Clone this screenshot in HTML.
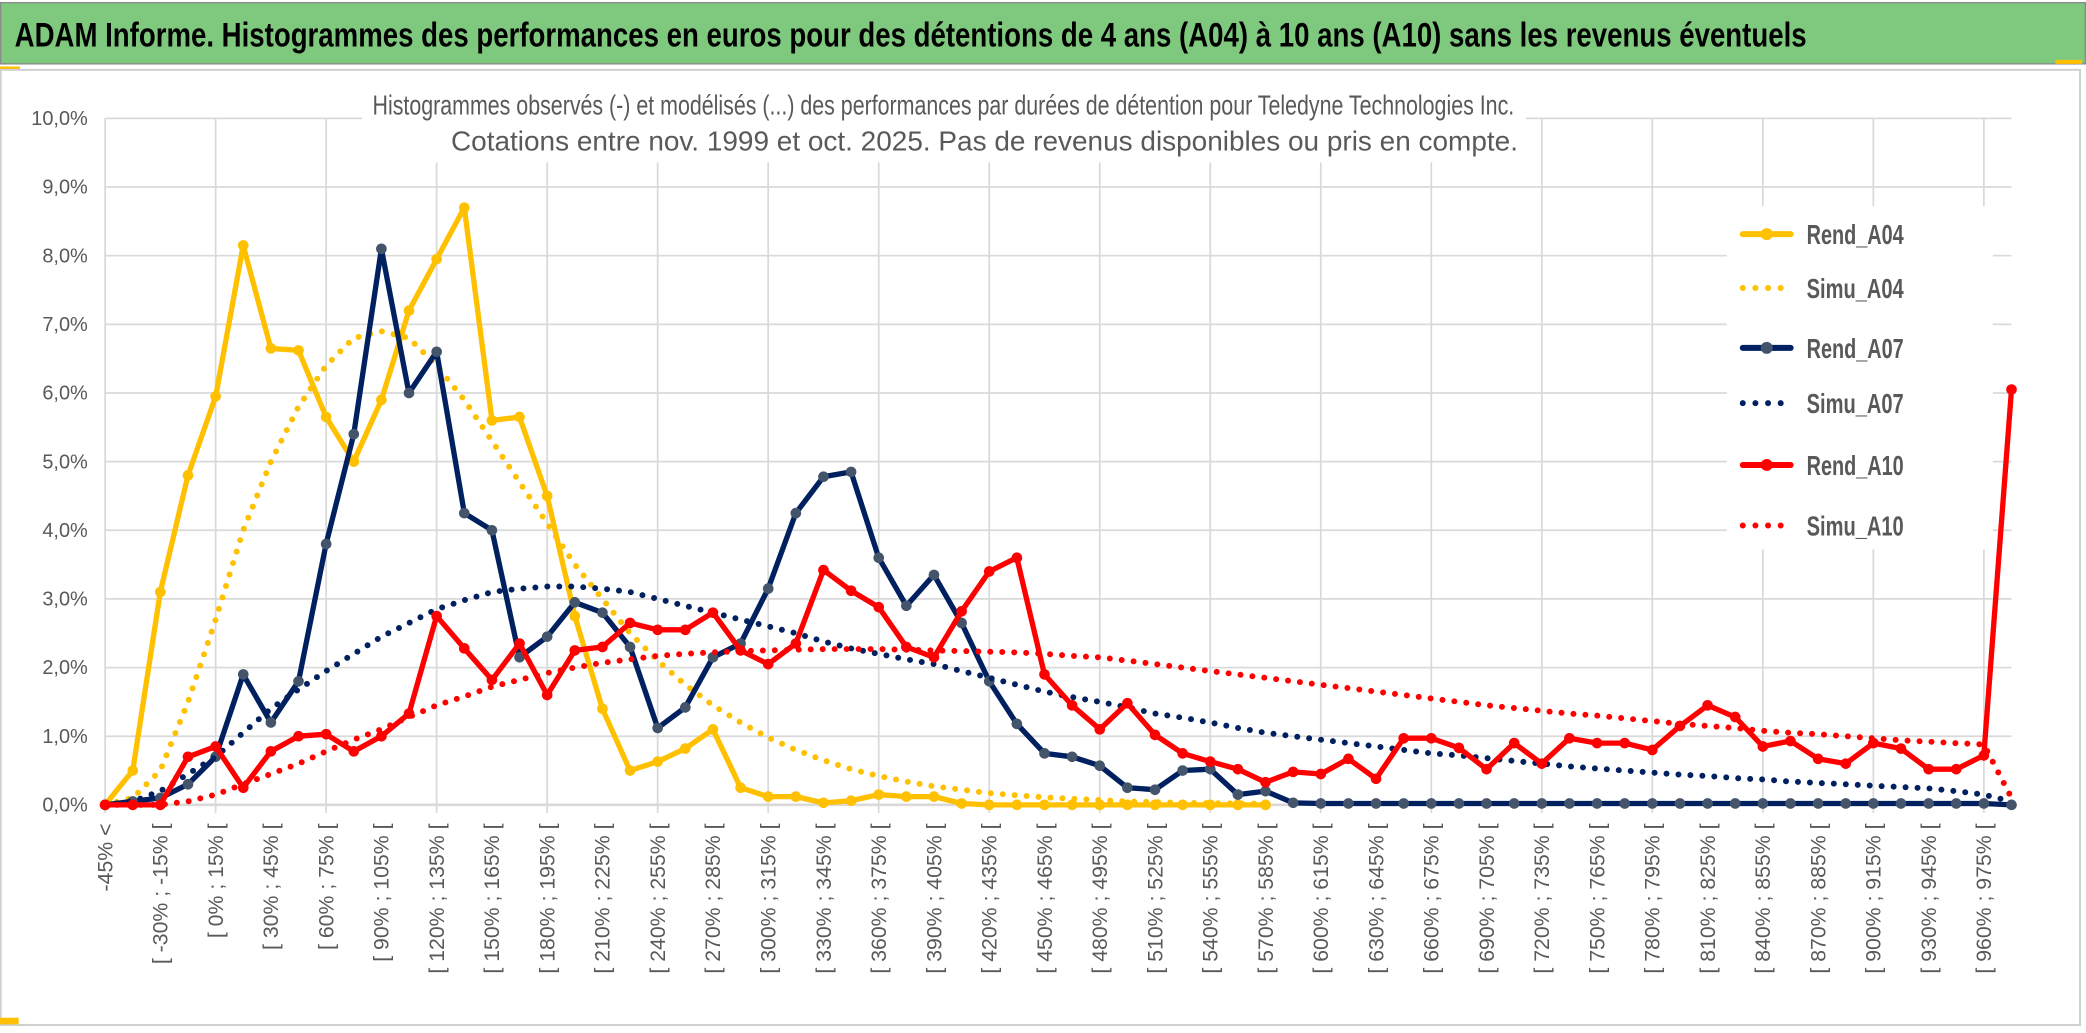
<!DOCTYPE html>
<html><head><meta charset="utf-8"><style>
html,body{margin:0;padding:0;background:#fff;}
svg{display:block;}
text{font-family:"Liberation Sans Narrow","Liberation Sans",sans-serif;}
</style></head><body>
<svg id="chart" width="2086" height="1033" viewBox="0 0 1568 776.5" preserveAspectRatio="none" xmlns="http://www.w3.org/2000/svg">
<rect x="0" y="0" width="1568" height="776.5" fill="#fff"/>
<rect x="0.5" y="2" width="1567" height="46" fill="#7fc97f" stroke="#8a8a8a" stroke-width="1"/>
<text x="11" y="35" font-size="26" font-weight="bold" fill="#000" textLength="1347" lengthAdjust="spacingAndGlyphs">ADAM Informe. Histogrammes des performances en euros pour des détentions de 4 ans (A04) à 10 ans (A10) sans les revenus éventuels</text>
<rect x="0" y="50" width="15" height="3" fill="#ffc000"/>
<rect x="1545" y="45" width="20" height="3" fill="#ffc000"/>
<rect x="0.5" y="52.5" width="1563" height="718" fill="#fff" stroke="#d0d0d0" stroke-width="1.5"/>
<rect x="0" y="765" width="14" height="5" fill="#ffc000"/>
<g id="grid"></g>
<rect x="272" y="62" width="875" height="60" fill="#fff"/>
<g id="sub1" transform="translate(280,86)"><text id="sub1t" x="0" y="0" font-size="21" fill="#595959" style="font-family:'Liberation Sans Narrow','Liberation Sans',sans-serif">Histogrammes observés (-) et modélisés (...) des performances par durées de détention pour Teledyne Technologies Inc.</text></g>
<g id="sub2" transform="translate(339,113)"><text id="sub2t" x="0" y="0" font-size="21" fill="#595959" style="font-family:'Liberation Sans Narrow','Liberation Sans',sans-serif">Cotations entre nov. 1999 et oct. 2025. Pas de revenus disponibles ou pris en compte.</text></g>
<g id="axes"></g>
<g id="series"></g>
<rect x="1298" y="155" width="200" height="258" fill="#fff"/>
<g id="legend"></g>
</svg>
<script>
const yTicks = [0,1,2,3,4,5,6,7,8,9,10];
const rendA04 = [0,0.5,3.1,4.8,5.95,8.15,6.65,6.62,5.65,5.0,5.9,7.2,7.95,8.7,5.6,5.65,4.5,2.75,1.4,0.5,0.63,0.82,1.1,0.25,0.12,0.12,0.03,0.06,0.15,0.12,0.12,0.02,0,0,0,0,0,0,0,0,0,0,0,null,null,null,null,null,null,null,null,null,null,null,null,null,null,null,null,null,null,null,null,null,null,null,null,null,null,null];
const simuA04 = [0,0.1,0.5,1.5,2.7,4.0,5.0,5.8,6.4,6.8,6.9,6.8,6.4,5.9,5.3,4.7,4.1,3.5,3.0,2.5,2.1,1.75,1.45,1.2,0.98,0.8,0.65,0.52,0.42,0.34,0.27,0.22,0.17,0.14,0.11,0.09,0.07,0.05,0.04,0.03,0.025,0.02,0.015,null,null,null,null,null,null,null,null,null,null,null,null,null,null,null,null,null,null,null,null,null,null,null,null,null,null,null];
const rendA07 = [0,0.05,0.1,0.3,0.7,1.9,1.2,1.8,3.8,5.4,8.1,6.0,6.6,4.25,4.0,2.15,2.45,2.95,2.8,2.3,1.12,1.42,2.15,2.35,3.15,4.25,4.78,4.85,3.6,2.9,3.35,2.65,1.8,1.18,0.75,0.7,0.57,0.25,0.22,0.5,0.52,0.15,0.2,0.03,0.02,0.02,0.02,0.02,0.02,0.02,0.02,0.02,0.02,0.02,0.02,0.02,0.02,0.02,0.02,0.02,0.02,0.02,0.02,0.02,0.02,0.02,0.02,0.02,0.02,0];
const simuA07 = [0,0.05,0.2,0.45,0.7,1.05,1.4,1.68,1.95,2.2,2.45,2.65,2.85,2.98,3.1,3.15,3.18,3.18,3.15,3.1,3.0,2.9,2.8,2.7,2.6,2.5,2.38,2.28,2.2,2.12,2.05,1.95,1.85,1.75,1.65,1.57,1.5,1.42,1.33,1.27,1.2,1.12,1.05,1.0,0.95,0.9,0.85,0.8,0.75,0.72,0.68,0.64,0.6,0.56,0.53,0.5,0.47,0.44,0.42,0.39,0.37,0.34,0.32,0.3,0.28,0.26,0.24,0.2,0.15,0.05];
const rendA10 = [0,0,0,0.7,0.85,0.25,0.78,1.0,1.03,0.78,1.0,1.33,2.75,2.28,1.82,2.35,1.6,2.25,2.3,2.65,2.55,2.55,2.8,2.25,2.05,2.35,3.42,3.12,2.88,2.3,2.15,2.82,3.4,3.6,1.9,1.45,1.1,1.48,1.02,0.75,0.63,0.52,0.33,0.48,0.45,0.67,0.38,0.97,0.97,0.83,0.52,0.9,0.6,0.97,0.9,0.9,0.8,1.15,1.45,1.28,0.85,0.93,0.67,0.6,0.9,0.82,0.52,0.52,0.72,6.05];
const simuA10 = [0,0,0,0.05,0.15,0.3,0.45,0.6,0.78,0.95,1.1,1.28,1.45,1.58,1.72,1.82,1.92,2.0,2.07,2.12,2.17,2.2,2.22,2.24,2.25,2.26,2.27,2.27,2.27,2.26,2.25,2.24,2.23,2.22,2.2,2.17,2.15,2.1,2.05,2.0,1.95,1.9,1.85,1.8,1.75,1.7,1.65,1.6,1.55,1.5,1.45,1.41,1.37,1.33,1.3,1.26,1.22,1.18,1.15,1.12,1.08,1.05,1.03,1.0,0.97,0.94,0.92,0.9,0.88,0.1];
const categories = ["-45% <"];
for (let a = -45; a < 975; a += 15) categories.push("[ " + a + "% ; " + (a + 15) + "% [");
categories.push("975% >=");

const NS = "http://www.w3.org/2000/svg";
const X0 = 79, X1 = 1512, Y0 = 605, YTOP = 89;
const xs = i => X0 + i * (X1 - X0) / (categories.length - 1);
const ys = v => Y0 - v * (Y0 - YTOP) / 10;
function mk(tag, attrs, parent) {
  const e = document.createElementNS(NS, tag);
  for (const k in attrs) e.setAttribute(k, attrs[k]);
  parent.appendChild(e);
  return e;
}
function fitText(gid, tid, x, y, w) {
  const t = document.getElementById(tid);
  const len = t.getComputedTextLength();
  if (len > 0) document.getElementById(gid).setAttribute('transform', 'translate(' + x + ',' + y + ') scale(' + (w / len).toFixed(4) + ',1)');
}
fitText('sub1', 'sub1t', 280, 86, 858);
fitText('sub2', 'sub2t', 339, 113, 802);
const grid = document.getElementById('grid');
const axes = document.getElementById('axes');
yTicks.forEach(t => {
  const l = mk('line', {x1: X0, x2: X1, y1: ys(t), y2: ys(t), stroke: '#d9d9d9', 'stroke-width': t === 0 ? 2 : 1.3}, grid);
  
  
  const tx = mk('text', {x: 66, y: ys(t) + 5, 'text-anchor': 'end', 'font-size': 15, fill: '#595959'}, axes);
  tx.textContent = t.toFixed(1).replace('.', ',') + '%';
  
  
});
for (let i = 0; i < categories.length; i += 4) {
  const l = mk('line', {x1: xs(i), x2: xs(i), y1: YTOP, y2: Y0 + 6, stroke: '#d9d9d9', 'stroke-width': 1.3}, grid);
  
  
}
for (let i = 0; i < categories.length - 1; i += 2) {
  const x = xs(i) + 5.5, y = 619;
  const tx = mk('text', {x: x, y: y, 'text-anchor': 'end', 'font-size': 16, fill: '#595959', 'font-family': '"Liberation Sans",sans-serif', transform: 'rotate(-90 ' + x + ' ' + y + ')'}, axes);
  tx.textContent = categories[i];
  
  
}
const seriesG = document.getElementById('series');
function pathOf(vals) {
  let d = '', pen = false;
  vals.forEach((v, i) => {
    if (v === null) { pen = false; return; }
    d += (pen ? 'L' : 'M') + xs(i).toFixed(1) + ' ' + ys(v).toFixed(1);
    pen = true;
  });
  return d;
}
const defs = [
  {vals: rendA04, color: '#ffc000', mcol: '#ffc000', solid: true, name: 'Rend_A04'},
  {vals: simuA04, color: '#ffc000', solid: false, name: 'Simu_A04'},
  {vals: rendA07, color: '#002060', mcol: '#44546a', solid: true, name: 'Rend_A07'},
  {vals: simuA07, color: '#002060', solid: false, name: 'Simu_A07'},
  {vals: rendA10, color: '#ff0000', mcol: '#ff0000', solid: true, name: 'Rend_A10'},
  {vals: simuA10, color: '#ff0000', solid: false, name: 'Simu_A10'}
];
defs.forEach(s => {
  const g = mk('g', {}, seriesG);
  
  
  const p = mk('path', {d: pathOf(s.vals), fill: 'none', stroke: s.color, 'stroke-width': s.solid ? 4 : 4.5, 'stroke-linejoin': 'round', 'stroke-linecap': 'round'}, g);
  if (!s.solid) p.setAttribute('stroke-dasharray', '0 9');
  
  
  if (s.solid) s.vals.forEach((v, i) => {
    if (v === null) return;
    const c = mk('circle', {cx: xs(i), cy: ys(v), r: 4, fill: s.mcol}, g);
    
    
  });
});
const leg = document.getElementById('legend');
const legY = [176, 216.5, 261.5, 303, 349.5, 395];
defs.forEach((s, k) => {
  const y = legY[k];
  const g = mk('g', {}, leg);
  
  
  if (s.solid) {
    mk('line', {x1: 1310, x2: 1346, y1: y, y2: y, stroke: s.color, 'stroke-width': 4.5, 'stroke-linecap': 'round'}, g);
    mk('circle', {cx: 1328, cy: y, r: 4.5, fill: s.mcol}, g);
  } else {
    mk('line', {x1: 1310, x2: 1346, y1: y, y2: y, stroke: s.color, 'stroke-width': 4.5, 'stroke-linecap': 'round', 'stroke-dasharray': '0 9.5'}, g);
  }
  const t = mk('text', {x: 1358, y: y + 7.5, 'font-size': 21, 'font-weight': 'bold', fill: '#595959', textLength: 73, lengthAdjust: 'spacingAndGlyphs'}, g);
  t.textContent = s.name;
});
</script>
</body></html>
